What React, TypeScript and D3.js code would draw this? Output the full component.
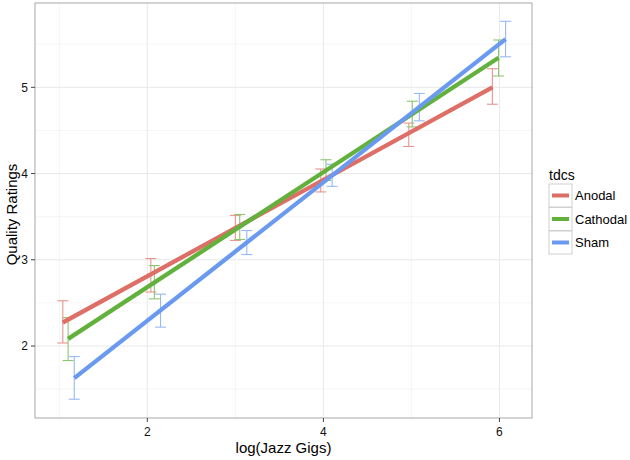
import React from "react";
import * as d3 from "d3";

const groups = ["Anodal", "Cathodal", "Sham"];
const colors = ["#DE6F67", "#63B13D", "#6A9AF0"];
const barColors = ["#E8948E", "#8CC66F", "#98B8F5"];

const anodalX = [1.04, 2.04, 3.0, 3.97, 4.97, 5.92];
const anodalMean = [2.28, 2.82, 3.37, 3.92, 4.45, 5.01];
const anodalSE = [0.245, 0.194, 0.145, 0.133, 0.136, 0.206];

const cathodalX = [1.1, 2.08, 3.05, 4.03, 5.01, 5.99];
const cathodalMean = [2.08, 2.74, 3.38, 4.04, 4.69, 5.34];
const cathodalSE = [0.249, 0.193, 0.145, 0.12, 0.149, 0.209];

const shamX = [1.17, 2.15, 3.13, 4.1, 5.09, 6.07];
const shamMean = [1.63, 2.41, 3.2, 3.98, 4.77, 5.56];
const shamSE = [0.247, 0.191, 0.139, 0.128, 0.159, 0.206];

const xTicks = [2, 4, 6];
const yTicks = [2, 3, 4, 5];
const xMinor = [1, 3, 5];
const yMinor = [1.5, 2.5, 3.5, 4.5, 5.5];

const xTitle = "log(Jazz Gigs)";
const yTitle = "Quality Ratings";
const legendTitle = "tdcs";

const series = [
  { name: groups[0], xs: anodalX, ys: anodalMean, se: anodalSE },
  { name: groups[1], xs: cathodalX, ys: cathodalMean, se: cathodalSE },
  { name: groups[2], xs: shamX, ys: shamMean, se: shamSE },
];

function fit(xs: number[], ys: number[]) {
  const mx = d3.mean(xs)!;
  const my = d3.mean(ys)!;
  let num = 0, den = 0;
  xs.forEach((x, i) => {
    num += (x - mx) * (ys[i] - my);
    den += (x - mx) * (x - mx);
  });
  const b = num / den;
  const a = my - b * mx;
  return (x: number) => a + b * x;
}

export default function App() {
  const L = 35, R = 532, T = 3, B = 418;
  const x = d3.scaleLinear().domain([0.724, 6.37]).range([L, R]);
  const y = d3.scaleLinear().domain([1.165, 5.978]).range([B, T]);
  const font = "'Liberation Sans', Arial, Helvetica, sans-serif";
  const capHalf = 0.0625;
  const line = d3.line<[number, number]>().x((d) => x(d[0])).y((d) => y(d[1]));

  return (
    <svg width={630} height={460} style={{ position: "absolute", left: 0, top: 0, background: "#fff" }} fontFamily={font}>
      <rect x={L} y={T} width={R - L} height={B - T} fill="#fff" />
      {xMinor.map((v) => (
        <line key={"xm" + v} x1={x(v)} x2={x(v)} y1={T} y2={B} stroke="#f3f3f3" strokeWidth={0.8} />
      ))}
      {yMinor.map((v) => (
        <line key={"ym" + v} x1={L} x2={R} y1={y(v)} y2={y(v)} stroke="#f3f3f3" strokeWidth={0.8} />
      ))}
      {xTicks.map((v) => (
        <line key={"xg" + v} x1={x(v)} x2={x(v)} y1={T} y2={B} stroke="#e8e8e8" strokeWidth={1} />
      ))}
      {yTicks.map((v) => (
        <line key={"yg" + v} x1={L} x2={R} y1={y(v)} y2={y(v)} stroke="#e8e8e8" strokeWidth={1} />
      ))}
      {series.map((s, si) => (
        <g key={"eb" + si} stroke={barColors[si]} strokeWidth={1.1} fill="none">
          {s.xs.map((xv, i) => {
            const lo = s.ys[i] - s.se[i];
            const hi = s.ys[i] + s.se[i];
            return (
              <g key={i}>
                <line x1={x(xv)} x2={x(xv)} y1={y(lo)} y2={y(hi)} />
                <line x1={x(xv - capHalf)} x2={x(xv + capHalf)} y1={y(lo)} y2={y(lo)} />
                <line x1={x(xv - capHalf)} x2={x(xv + capHalf)} y1={y(hi)} y2={y(hi)} />
              </g>
            );
          })}
        </g>
      ))}
      {series.map((s, si) => {
        const f = fit(s.xs, s.ys);
        const x0 = d3.min(s.xs)!;
        const x1 = d3.max(s.xs)!;
        return (
          <path key={"ln" + si} d={line([[x0, f(x0)], [x1, f(x1)]])!} stroke={colors[si]} strokeWidth={4.3} fill="none" />
        );
      })}
      <rect x={L} y={T} width={R - L} height={B - T} fill="none" stroke="#a8a8a8" strokeWidth={1} />
      {xTicks.map((v) => (
        <g key={"xt" + v}>
          <line x1={x(v)} x2={x(v)} y1={B} y2={B + 4} stroke="#444" strokeWidth={1} />
          <text x={x(v)} y={B + 18} textAnchor="middle" fontSize={12} fill="#111">{v}</text>
        </g>
      ))}
      {yTicks.map((v) => (
        <g key={"yt" + v}>
          <line x1={L - 4} x2={L} y1={y(v)} y2={y(v)} stroke="#444" strokeWidth={1} />
          <text x={L - 7} y={y(v)} dy="0.36em" textAnchor="end" fontSize={12} fill="#111">{v}</text>
        </g>
      ))}
      <text x={(L + R) / 2} y={453} textAnchor="middle" fontSize={15} fill="#000">{xTitle}</text>
      <text transform={`translate(17,${(T + B) / 2 + 4}) rotate(-90)`} textAnchor="middle" fontSize={15} fill="#000">{yTitle}</text>
      <text x={549} y={180} fontSize={14} fill="#000">{legendTitle}</text>
      {groups.map((g, i) => (
        <g key={"lg" + i} transform={`translate(549,${184 + i * 23.5})`}>
          <rect x={0} y={0} width={23} height={23} fill="#fff" stroke="#d0d0d0" strokeWidth={1} />
          <line x1={3} x2={20} y1={11.5} y2={11.5} stroke={colors[i]} strokeWidth={4} />
          <text x={26} y={11.5} dy="0.35em" fontSize={13} fill="#000">{g}</text>
        </g>
      ))}
    </svg>
  );
}
